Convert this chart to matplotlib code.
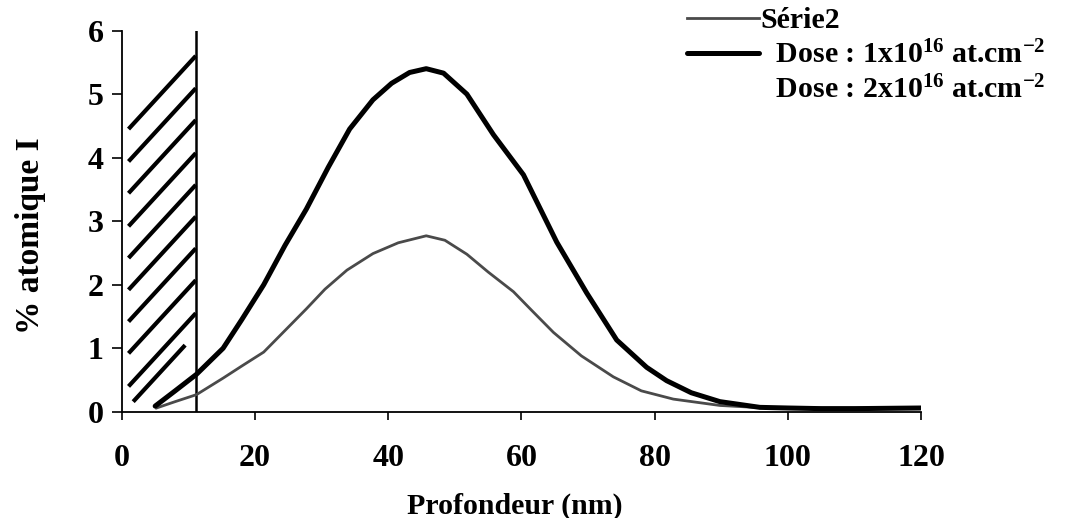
import matplotlib
matplotlib.use("Agg")
import matplotlib.pyplot as plt
from matplotlib.lines import Line2D

plt.rcParams['font.family'] = ['Liberation Serif', 'DejaVu Serif']
plt.rcParams['font.weight'] = 'bold'
plt.rcParams['mathtext.fontset'] = 'custom'
plt.rcParams['mathtext.rm'] = 'Liberation Serif:bold'
plt.rcParams['mathtext.bf'] = 'Liberation Serif:bold'
plt.rcParams['mathtext.it'] = 'Liberation Serif:bold'
plt.rcParams['mathtext.default'] = 'bf'

# profil dose 2x10^16 (trait epais)
depth_thick = [5.0, 8, 11.2, 15.2, 18, 21.3, 24.5, 27.7, 31, 34.2, 37.7, 40.5, 43.2,
               45.7, 48.3, 51.8, 55.8, 60.3, 65.3, 69.8, 74.3, 78.8, 81.8, 85.5,
               89.8, 95.8, 100, 105, 110, 120]
conc_thick = [0.09, 0.33, 0.59, 1.00, 1.45, 2.00, 2.62, 3.19, 3.85, 4.45, 4.91, 5.17, 5.34,
              5.40, 5.33, 5.00, 4.36, 3.73, 2.67, 1.87, 1.13, 0.70, 0.49, 0.30,
              0.16, 0.07, 0.06, 0.05, 0.05, 0.06]

# profil dose 1x10^16 (trait fin)
depth_thin = [5.2, 8, 11.2, 15.2, 18, 21.3, 24.5, 27.7, 30.5, 33.8, 37.7, 41.5, 45.7,
              48.5, 51.8, 55, 58.8, 61.5, 64.8, 69, 73.8, 78, 82.8, 89.8, 95, 100, 110, 120]
conc_thin = [0.06, 0.16, 0.27, 0.53, 0.72, 0.94, 1.28, 1.62, 1.93, 2.23, 2.49, 2.66, 2.77,
             2.70, 2.48, 2.20, 1.89, 1.60, 1.25, 0.88, 0.55, 0.33, 0.20, 0.10, 0.07, 0.06, 0.06, 0.06]

# zone hachuree
zone_edge = 11.1
hatch_y0 = [4.45, 3.94, 3.44, 2.92, 2.42, 1.92, 1.42, 0.92, 0.40, 0.08]
hatch_x1 = [11.1, 11.1, 11.1, 11.1, 11.1, 11.1, 11.1, 11.1, 11.1, 9.5]
hatch_slope = 0.114

xticks = [0, 20, 40, 60, 80, 100, 120]
yticks = [0, 1, 2, 3, 4, 5, 6]

fig = plt.figure(figsize=(10.69, 5.18), dpi=100)
ax = fig.add_axes([0.114, 0.205, 0.7476, 0.736])

for y0, x1 in zip(hatch_y0, hatch_x1):
    x0 = 1.0 if y0 > 0.2 else 1.7
    ax.plot([x0, x1], [y0 + hatch_slope * (x0 - 1.0), y0 + hatch_slope * (x1 - 1.0)],
            color='black', lw=3, solid_capstyle='butt')

ax.plot([zone_edge, zone_edge], [0, 6], color='black', lw=1.8)

thin, = ax.plot(depth_thin, conc_thin, color='#4a4a4a', lw=2.0,
                solid_joinstyle='round')
thick, = ax.plot(depth_thick, conc_thick, color='black', lw=3.6,
                 solid_joinstyle='round', solid_capstyle='round')

ax.set_xlim(0, 120)
ax.set_ylim(0, 6)
ax.set_xticks(xticks)
ax.set_yticks(yticks)
ax.spines['top'].set_visible(False)
ax.spines['right'].set_visible(False)
ax.spines['left'].set_linewidth(1.3)
ax.spines['bottom'].set_linewidth(1.3)
ax.tick_params(axis='x', direction='out', length=6, width=1.2, pad=17, labelsize=23)
ax.tick_params(axis='y', direction='out', length=7, width=1.2, pad=6, labelsize=23)

ax.set_xlabel('Profondeur (nm)', fontsize=21.5, fontweight='bold')
ax.xaxis.set_label_coords(0.492, -0.212)
ax.set_ylabel('% atomique I', fontsize=24, fontweight='bold')
ax.yaxis.set_label_coords(-0.114, 0.463)
ax.yaxis.label.set_verticalalignment('center')

blank = Line2D([], [], color='none')
fig.legend([thin, thick, blank],
           ['Série2', '  Dose : 1x10$^{16}$ at.cm$^{-2}$', '  Dose : 2x10$^{16}$ at.cm$^{-2}$'],
           loc='upper left', bbox_to_anchor=(0.636, 1.0), frameon=False,
           fontsize=21.5, handlelength=2.4, handletextpad=0.05,
           labelspacing=0.22, borderpad=0.25, borderaxespad=0)

fig.savefig('out.png', dpi=100)
